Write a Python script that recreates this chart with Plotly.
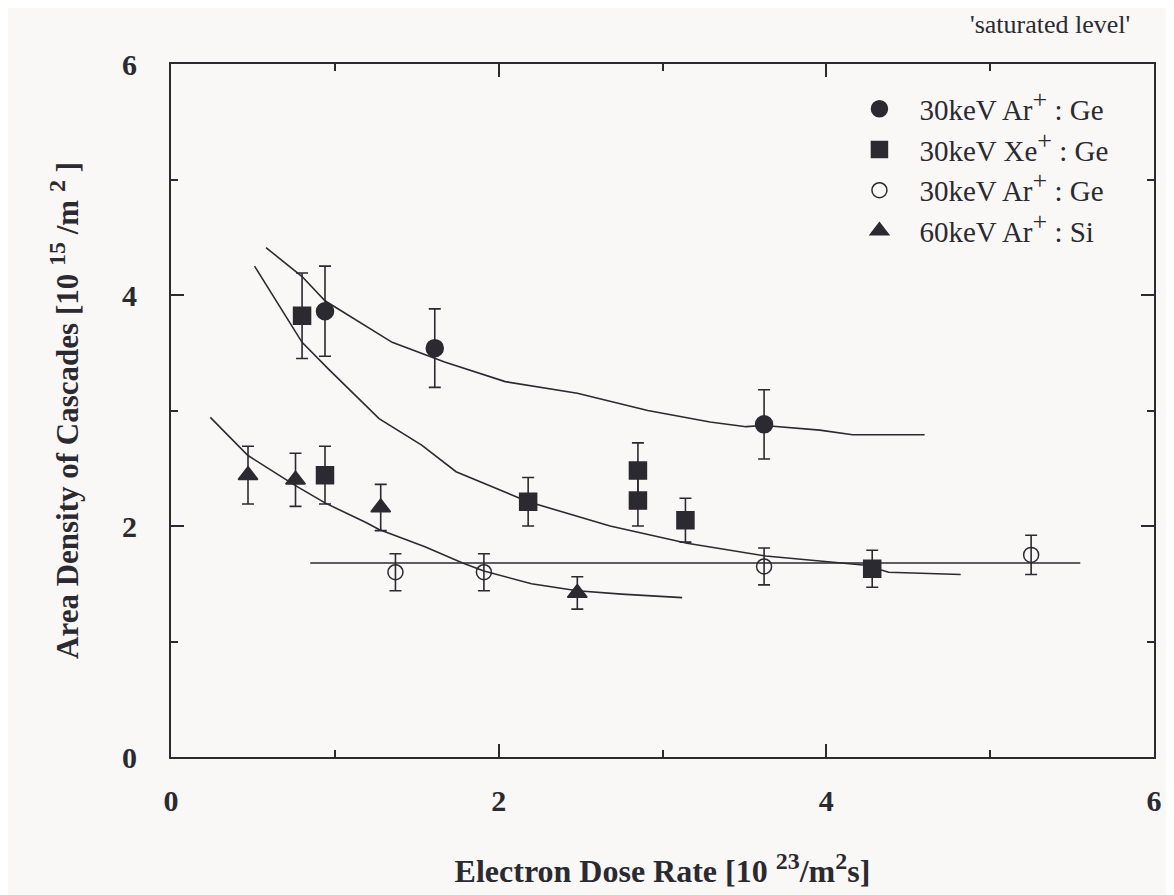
import plotly.graph_objects as go

# ---- data ----
ar_ge_x = [0.94, 1.61, 3.62]
ar_ge_y = [3.86, 3.54, 2.88]
ar_ge_err = [0.39, 0.34, 0.30]

xe_ge_x = [0.80, 0.94, 2.18, 2.85, 2.85, 3.14, 4.28]
xe_ge_y = [3.82, 2.44, 2.21, 2.48, 2.22, 2.05, 1.63]
xe_ge_err = [0.37, 0.25, 0.21, 0.24, 0.22, 0.19, 0.16]

ar_ge_open_x = [1.37, 1.91, 3.62, 5.25]
ar_ge_open_y = [1.60, 1.60, 1.65, 1.75]
ar_ge_open_err = [0.16, 0.16, 0.16, 0.17]

ar_si_x = [0.47, 0.76, 1.28, 2.48]
ar_si_y = [2.44, 2.40, 2.16, 1.42]
ar_si_err = [0.25, 0.23, 0.20, 0.14]

curve_upper_x = [0.58, 0.80, 0.94, 1.35, 1.67, 2.04, 2.48, 2.91, 3.29, 3.51, 3.62, 3.96, 4.16, 4.60]
curve_upper_y = [4.41, 4.16, 3.95, 3.59, 3.42, 3.25, 3.15, 3.00, 2.90, 2.86, 2.87, 2.83, 2.79, 2.79]

curve_middle_x = [0.51, 0.80, 0.96, 1.27, 1.53, 1.74, 2.18, 2.68, 3.15, 3.63, 4.24, 4.38, 4.82]
curve_middle_y = [4.25, 3.59, 3.36, 2.93, 2.70, 2.47, 2.21, 2.00, 1.85, 1.74, 1.66, 1.60, 1.58]

curve_lower_x = [0.24, 0.47, 0.76, 0.94, 1.19, 1.27, 1.55, 1.78, 1.91, 2.20, 2.48, 2.75, 3.12]
curve_lower_y = [2.94, 2.61, 2.35, 2.20, 2.03, 1.97, 1.82, 1.68, 1.61, 1.50, 1.44, 1.41, 1.38]

saturated_x = [0.85, 5.55]
saturated_y = [1.68, 1.68]

x_ticks = [0, 2, 4, 6]
y_ticks = [0, 2, 4, 6]

INK = "#2b2a30"
BG = "#faf7f7"
SERIF = "Liberation Serif, Times New Roman, serif"

fig = go.Figure()

for cx, cy in [(curve_upper_x, curve_upper_y), (curve_middle_x, curve_middle_y),
               (curve_lower_x, curve_lower_y), (saturated_x, saturated_y)]:
    fig.add_trace(go.Scatter(x=cx, y=cy, mode="lines", showlegend=False,
                             line=dict(color=INK, width=1.6), hoverinfo="skip"))

def series(x, y, err, name, symbol, size, fill=INK):
    return go.Scatter(
        x=x, y=y, mode="markers", name=name,
        marker=dict(symbol=symbol, size=size, color=fill,
                    line=dict(color=INK, width=1.5)),
        error_y=dict(type="data", array=err, visible=True, color=INK,
                     thickness=1.6, width=6),
    )

SUP = '<sup><span style="font-size:24px">{}</span></sup>'
PLUS = '<sup><span style="font-size:26px">+</span></sup>'

fig.add_trace(series(ar_ge_x, ar_ge_y, ar_ge_err, "30keV Ar" + PLUS + " : Ge", "circle", 17))
fig.add_trace(series(xe_ge_x, xe_ge_y, xe_ge_err, "30keV Xe" + PLUS + " : Ge", "square", 17))
fig.add_trace(series(ar_ge_open_x, ar_ge_open_y, ar_ge_open_err, "30keV Ar" + PLUS + " : Ge",
                     "circle-open", 15, fill=INK))
fig.add_trace(series(ar_si_x, ar_si_y, ar_si_err, "60keV Ar" + PLUS + " : Si", "triangle-up", 17))

axis_common = dict(
    showline=True, linecolor=INK, linewidth=2, mirror="allticks",
    ticks="inside", ticklen=13, tickwidth=1.5, tickcolor=INK,
    showgrid=False, zeroline=False,
    tickfont=dict(family=SERIF, size=30, color=INK, weight="bold"),
    minor=dict(dtick=1, ticks="inside", ticklen=7, tickwidth=1.5, tickcolor=INK, showgrid=False),
)

fig.update_xaxes(range=[0, 6], tickvals=x_ticks, ticklabelstandoff=16,
                 title=dict(text="Electron Dose Rate [10 " + SUP.format("23") + "/m" + SUP.format("2") + "s]",
                            font=dict(family=SERIF, size=32, color=INK, weight="bold"),
                            standoff=44),
                 **axis_common)
fig.update_yaxes(range=[0, 6], tickvals=y_ticks, ticklabelstandoff=26,
                 title=dict(text="Area Density of Cascades [10 " + SUP.format("15") + " /m " + SUP.format("2") + " ]",
                            font=dict(family=SERIF, size=31, color=INK, weight="bold"),
                            standoff=34),
                 **axis_common)

fig.add_annotation(text="'saturated level'", xref="paper", yref="paper",
                   x=0.978, y=1.057, xanchor="right", yanchor="middle", showarrow=False,
                   font=dict(family=SERIF, size=26, color=INK))

fig.update_layout(
    width=1166, height=887,
    margin=dict(l=163, r=14, t=56, b=135),
    paper_bgcolor=BG, plot_bgcolor=BG,
    font=dict(family=SERIF, color=INK),
    legend=dict(x=0.68, y=0.972, xanchor="left", yanchor="top",
                bgcolor="rgba(0,0,0,0)", font=dict(family=SERIF, size=29, color=INK),
                itemsizing="trace", itemwidth=70, tracegroupgap=0),
)

fig.write_html("out.html")
